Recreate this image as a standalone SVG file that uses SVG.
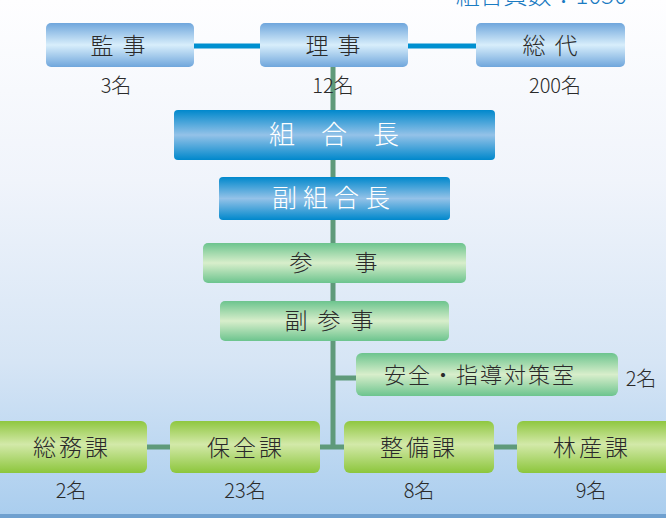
<svg xmlns="http://www.w3.org/2000/svg" width="666" height="518" viewBox="0 0 666 518">
<defs>
<linearGradient id="bg" x1="0" y1="0" x2="0" y2="1">
<stop offset="0" stop-color="#fefeff"/>
<stop offset="0.35" stop-color="#f0f4fb"/>
<stop offset="0.7" stop-color="#d6e5f5"/>
<stop offset="1" stop-color="#a9cdee"/>
</linearGradient>
<linearGradient id="gTop" x1="0" y1="0" x2="0" y2="1">
<stop offset="0" stop-color="#6fa6dc"/>
<stop offset="0.5" stop-color="#d8eefb"/>
<stop offset="1" stop-color="#6fa6dc"/>
</linearGradient>
<linearGradient id="gBlue" x1="0" y1="0" x2="0" y2="1">
<stop offset="0" stop-color="#0088cc"/>
<stop offset="0.5" stop-color="#94c2e8"/>
<stop offset="1" stop-color="#0088cc"/>
</linearGradient>
<linearGradient id="gGreen" x1="0" y1="0" x2="0" y2="1">
<stop offset="0" stop-color="#6cc48e"/>
<stop offset="0.5" stop-color="#d8eecb"/>
<stop offset="1" stop-color="#6cc48e"/>
</linearGradient>
<linearGradient id="gLime" x1="0" y1="0" x2="0" y2="1">
<stop offset="0" stop-color="#8fc740"/>
<stop offset="0.45" stop-color="#d3e9a9"/>
<stop offset="1" stop-color="#8cc63c"/>
</linearGradient>
<style>
text{font-family:"Noto Sans CJK JP","Noto Sans",sans-serif;text-anchor:middle;font-weight:300}
.lb{font-size:23px;fill:#2a2a2a}
.nm{font-size:20px;fill:#2a2a2a}
.wt{font-size:25px;fill:#ffffff}
.blue{stroke:#0090d0;stroke-width:5;fill:none}
.grn{stroke:#5f9a7a;stroke-width:5;fill:none}
</style>
</defs>
<rect x="0" y="0" width="666" height="518" fill="url(#bg)"/>
<rect x="0" y="514" width="666" height="4" fill="#6fa0cf"/>
<text x="627" y="4" style="font-size:24px;fill:#1a7bc2;text-anchor:end">組合員数：1050</text>

<g id="connectors">
<line class="blue" x1="194" y1="46" x2="260" y2="46"/>
<line class="blue" x1="408" y1="46" x2="476" y2="46"/>
<polyline class="grn" points="333,67 333,447"/>
<line class="grn" x1="333" y1="378" x2="356" y2="378"/>
<line class="grn" x1="147" y1="447" x2="170" y2="447"/>
<line class="grn" x1="320" y1="447" x2="344" y2="447"/>
<line class="grn" x1="494" y1="447" x2="517" y2="447"/>
</g>

<g id="kanji">
<rect x="46" y="23" width="148" height="44" rx="5" fill="url(#gTop)"/>
<text class="lb" x="119" y="54" style="letter-spacing:2px">監 事</text>
<text class="nm" x="116" y="93">3名</text>
</g>
<g id="riji">
<rect x="260" y="23" width="148" height="44" rx="5" fill="url(#gTop)"/>
<text class="lb" x="334" y="54" style="letter-spacing:2px">理 事</text>
<text class="nm" x="333" y="93">12名</text>
</g>
<g id="sodai">
<rect x="476" y="23" width="149" height="44" rx="5" fill="url(#gTop)"/>
<text class="lb" x="551" y="54" style="letter-spacing:2px">総 代</text>
<text class="nm" x="555" y="93">200名</text>
</g>

<g id="kumiaicho">
<rect x="174" y="110" width="321" height="50" rx="4" fill="url(#gBlue)"/>
<text class="wt" x="334" y="144" style="font-size:26px">組　合　長</text>
</g>
<g id="fukukumiaicho">
<rect x="219" y="177" width="231" height="43" rx="4" fill="url(#gBlue)"/>
<text class="wt" x="334" y="207" style="letter-spacing:6px">副組合長</text>
</g>

<g id="sanji">
<rect x="203" y="243" width="263" height="40" rx="5" fill="url(#gGreen)"/>
<text class="lb" x="301" y="271">参</text>
<text class="lb" x="366" y="271">事</text>
</g>
<g id="fukusanji">
<rect x="220" y="301" width="229" height="40" rx="5" fill="url(#gGreen)"/>
<text class="lb" x="334" y="329" style="letter-spacing:10px">副参事</text>
</g>
<g id="anzen">
<rect x="356" y="353" width="262" height="43" rx="6" fill="url(#gGreen)"/>
<text class="lb" x="480" y="383" style="font-size:22px;letter-spacing:2px">安全・指導対策室</text>
<text class="nm" x="641" y="386">2名</text>
</g>

<g id="somu">
<rect x="-10" y="421" width="157" height="52" rx="6" fill="url(#gLime)"/>
<text class="lb" x="72" y="456" style="letter-spacing:3px">総務課</text>
<text class="nm" x="71" y="498">2名</text>
</g>
<g id="hozen">
<rect x="170" y="421" width="150" height="52" rx="6" fill="url(#gLime)"/>
<text class="lb" x="246" y="456" style="letter-spacing:3px">保全課</text>
<text class="nm" x="245" y="498">23名</text>
</g>
<g id="seibi">
<rect x="344" y="421" width="150" height="52" rx="6" fill="url(#gLime)"/>
<text class="lb" x="419" y="456" style="letter-spacing:3px">整備課</text>
<text class="nm" x="419" y="498">8名</text>
</g>
<g id="rinsan">
<rect x="517" y="421" width="160" height="52" rx="6" fill="url(#gLime)"/>
<text class="lb" x="592" y="456" style="letter-spacing:3px">林産課</text>
<text class="nm" x="591" y="498">9名</text>
</g>
</svg>
